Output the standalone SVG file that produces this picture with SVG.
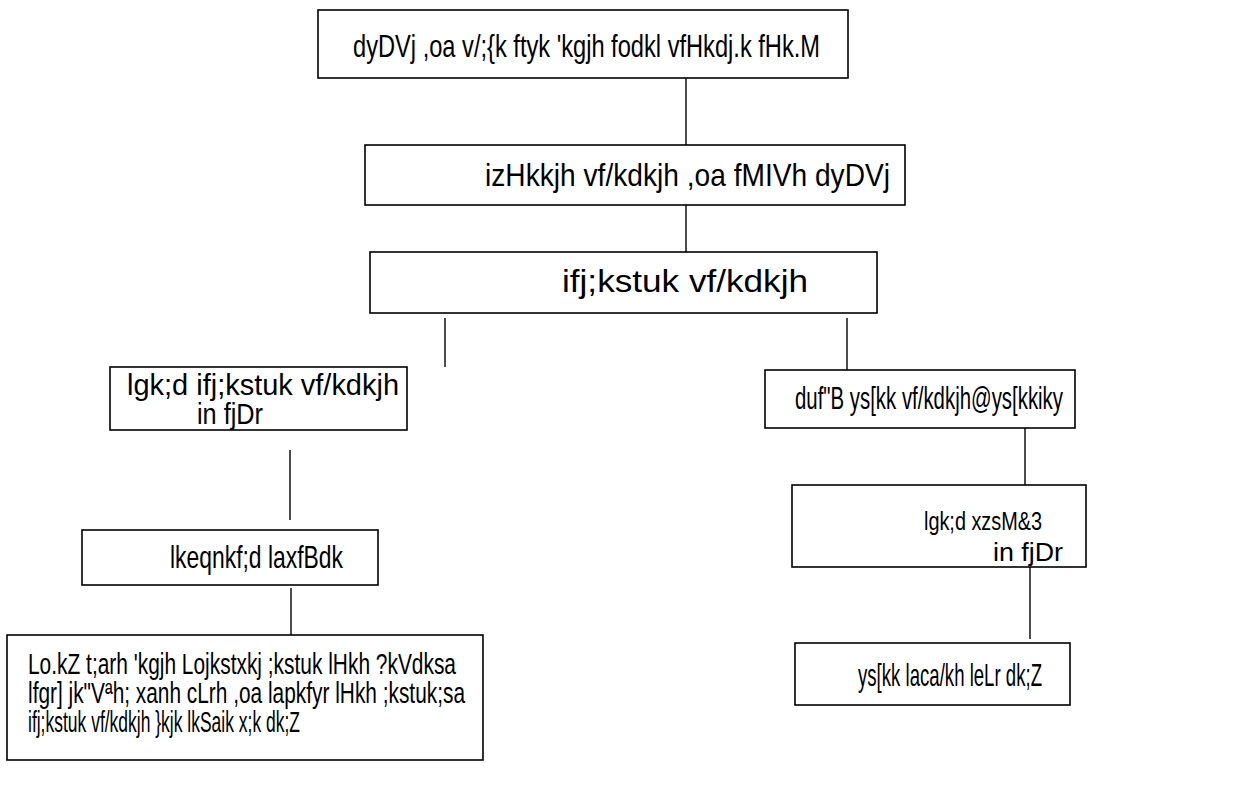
<svg xmlns="http://www.w3.org/2000/svg" width="1233" height="787" viewBox="0 0 1233 787">
<style>
.box{fill:#fff;stroke:#000;stroke-width:1.6}
.t{font-family:"Liberation Sans","Arial",sans-serif;font-size:32px;fill:#000}
.m{font-size:29px}
.s{font-size:26px}
.c{stroke:#000;stroke-width:1.4;fill:none}
</style>
<rect width="1233" height="787" fill="#fff"/>
<g id="connectors">
<line class="c" x1="686" y1="78" x2="686" y2="145"/>
<line class="c" x1="686" y1="205" x2="686" y2="252"/>
<line class="c" x1="445" y1="318" x2="445" y2="367"/>
<line class="c" x1="847" y1="318" x2="847" y2="370"/>
<line class="c" x1="290" y1="450" x2="290" y2="520"/>
<line class="c" x1="291" y1="588" x2="291" y2="635"/>
<line class="c" x1="1025" y1="428" x2="1025" y2="485"/>
<line class="c" x1="1030" y1="540" x2="1030" y2="639"/>
</g>
<g id="n1"><rect class="box" x="318" y="10" width="530" height="68"/>
<text class="t" x="353" y="57" textLength="467" lengthAdjust="spacingAndGlyphs">dyDVj ,oa v/;{k ftyk 'kgjh fodkl vfHkdj.k fHk.M</text></g>
<g id="n2"><rect class="box" x="365" y="145" width="540" height="60"/>
<text class="t" x="485" y="186" textLength="405" lengthAdjust="spacingAndGlyphs">izHkkjh vf/kdkjh ,oa fMIVh dyDVj</text></g>
<g id="n3"><rect class="box" x="370" y="252" width="507" height="61"/>
<text class="t" x="562" y="292" textLength="246" lengthAdjust="spacingAndGlyphs">ifj;kstuk vf/kdkjh</text></g>
<g id="n4"><rect class="box" x="110" y="367" width="297" height="63"/>
<text class="t m" x="127" y="395" textLength="272" lengthAdjust="spacingAndGlyphs">lgk;d ifj;kstuk vf/kdkjh</text>
<text class="t m" x="197" y="424" textLength="66" lengthAdjust="spacingAndGlyphs">in fjDr</text></g>
<g id="n5"><rect class="box" x="765" y="370" width="310" height="58"/>
<text class="t" x="795" y="409" textLength="268" lengthAdjust="spacingAndGlyphs">duf"B ys[kk vf/kdkjh@ys[kkiky</text></g>
<g id="n6"><rect class="box" x="792" y="485" width="294" height="82"/>
<text class="t s" x="924" y="530" textLength="118" lengthAdjust="spacingAndGlyphs">lgk;d xzsM&amp;3</text>
<text class="t s" x="993" y="561" textLength="70" lengthAdjust="spacingAndGlyphs">in fjDr</text></g>
<g id="n7"><rect class="box" x="82" y="530" width="296" height="55"/>
<text class="t" x="170" y="568" textLength="173" lengthAdjust="spacingAndGlyphs">lkeqnkf;d laxfBdk</text></g>
<g id="n8"><rect class="box" x="795" y="643" width="275" height="62"/>
<text class="t" x="858" y="686" textLength="184" lengthAdjust="spacingAndGlyphs">ys[kk laca/kh leLr dk;Z</text></g>
<g id="n9"><rect class="box" x="7" y="635" width="476" height="125"/>
<text class="t m" x="28" y="674" textLength="428" lengthAdjust="spacingAndGlyphs">Lo.kZ t;arh 'kgjh Lojkstxkj ;kstuk lHkh ?kVdksa</text>
<text class="t m" x="28" y="703" textLength="437" lengthAdjust="spacingAndGlyphs">lfgr] jk"Vªh; xanh cLrh ,oa lapkfyr lHkh ;kstuk;sa</text>
<text class="t m" x="28" y="732" textLength="272" lengthAdjust="spacingAndGlyphs">ifj;kstuk vf/kdkjh }kjk lkSaik x;k dk;Z</text></g>
</svg>
